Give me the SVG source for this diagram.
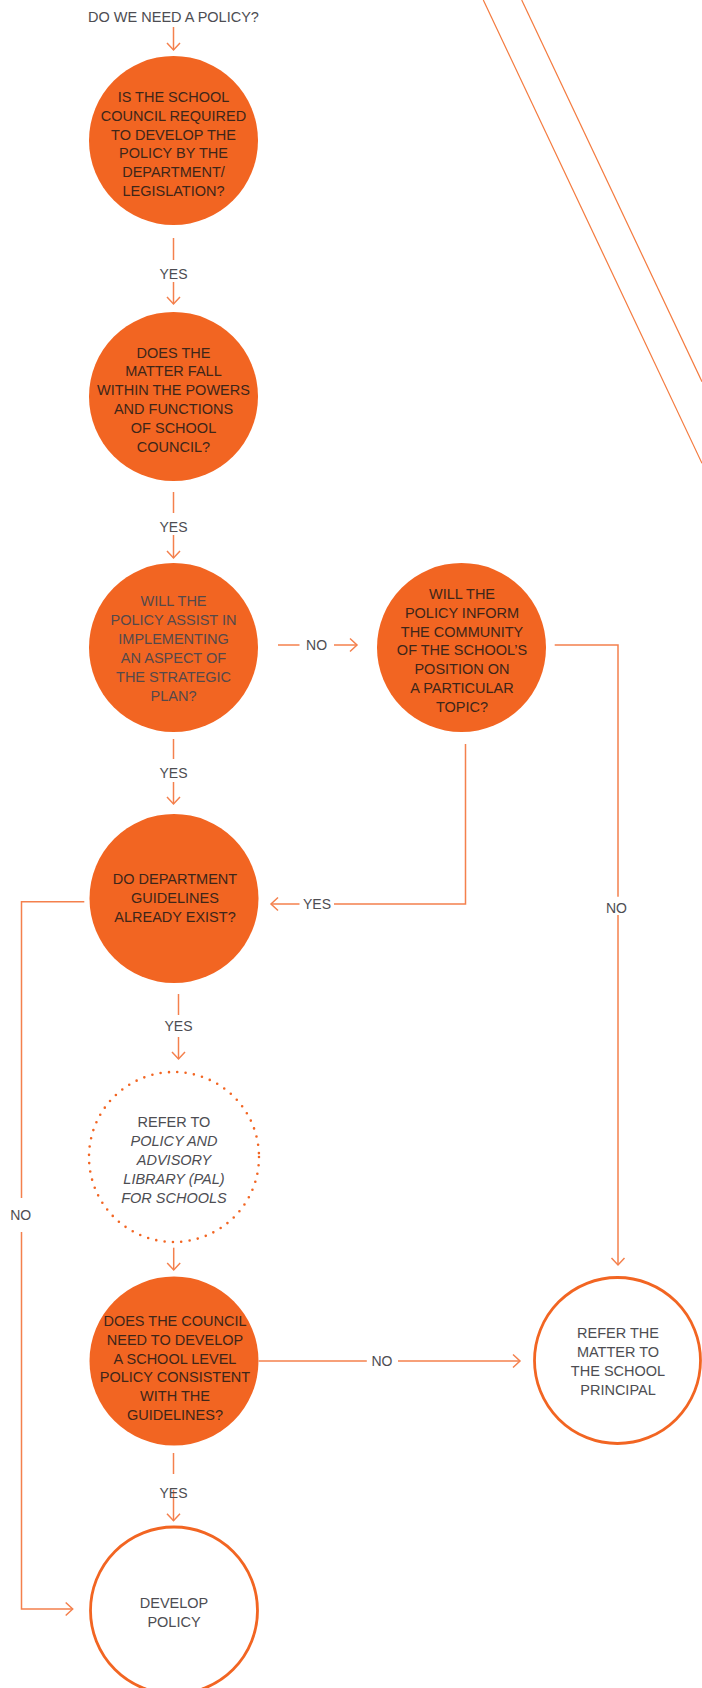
<svg xmlns="http://www.w3.org/2000/svg" width="702" height="1688" viewBox="0 0 702 1688">
<defs>
<marker id="arr" markerUnits="userSpaceOnUse" markerWidth="16" markerHeight="16" viewBox="-9 -8 10 16" refX="0" refY="0" orient="auto">
<path d="M-7,-6.5 L0,0 L-7,6.5" fill="none" stroke="#f4804d" stroke-width="1.5"/>
</marker>
</defs>
<style>
text{font-family:"Liberation Sans",Arial,sans-serif;text-anchor:middle}
.fill{fill:#f26522}
.ring{fill:#fff;stroke:#f26522;stroke-width:2.8}
.dots{fill:none;stroke:#f26522;stroke-width:2.6;stroke-linecap:round;stroke-dasharray:0 8.4}
.q{font-size:14.5px;fill:#3e2619}
.qg{font-size:14.5px;fill:#55494a}
.g{font-size:14.5px;fill:#4d4d52}
.lbl{font-size:14px;fill:#4d4d52}
.c{fill:none;stroke:#f4804d;stroke-width:1.5}
.a{marker-end:url(#arr)}
.diag{stroke:#f47a3e;stroke-width:1.2}
</style>
<rect width="702" height="1688" fill="#fff"/>
<g id="decor">
<line class="diag" x1="483.3" y1="0" x2="702" y2="463.3"/>
<line class="diag" x1="521.7" y1="0" x2="702" y2="381.7"/>
</g>
<g id="connectors">
<path class="c a" d="M173.5,27 V50"/>
<path class="c" d="M173.5,238 V260"/>
<path class="c a" d="M173.5,282 V304"/>
<path class="c" d="M173.5,492 V513"/>
<path class="c a" d="M173.5,535 V558"/>
<path class="c" d="M278,645 H299.5"/>
<path class="c a" d="M334,645 H357"/>
<path class="c" d="M554.7,645 H618 V896.7"/>
<path class="c a" d="M618,915 V1265"/>
<path class="c" d="M465.5,744 V904 H334"/>
<path class="c a" d="M299.5,904 H271"/>
<path class="c" d="M173.5,739 V759"/>
<path class="c a" d="M173.5,782 V804"/>
<path class="c" d="M84.3,901.7 H21.5 V1198"/>
<path class="c a" d="M21.5,1232 V1609 H72.7"/>
<path class="c" d="M178.5,994 V1015"/>
<path class="c a" d="M178.5,1037 V1059"/>
<path class="c a" d="M173.7,1247.7 V1270"/>
<path class="c" d="M258.7,1361 H366.8"/>
<path class="c a" d="M398,1361 H520"/>
<path class="c" d="M173.5,1453 V1474"/>
<path class="c a" d="M173.5,1490 V1520.7"/>
<text class="lbl" x="173.5" y="279">YES</text>
<text class="lbl" x="173.5" y="532">YES</text>
<text class="lbl" x="316.6" y="650">NO</text>
<text class="lbl" x="616.5" y="913">NO</text>
<text class="lbl" x="317" y="909">YES</text>
<text class="lbl" x="173.5" y="778">YES</text>
<text class="lbl" x="20.7" y="1220">NO</text>
<text class="lbl" x="178.5" y="1031">YES</text>
<text class="lbl" x="382" y="1366">NO</text>
<text class="lbl" x="173.5" y="1498">YES</text>
</g>
<g id="start">
<text class="g" x="173.5" y="21.5">DO WE NEED A POLICY?</text>
</g>
<g id="q1">
<circle class="fill" cx="173.5" cy="140.5" r="84.5"/>
<text class="q" x="173.5" y="102">IS THE SCHOOL</text>
<text class="q" x="173.5" y="120.8">COUNCIL REQUIRED</text>
<text class="q" x="173.5" y="139.6">TO DEVELOP THE</text>
<text class="q" x="173.5" y="158.4">POLICY BY THE</text>
<text class="q" x="173.5" y="177.2">DEPARTMENT/</text>
<text class="q" x="173.5" y="196">LEGISLATION?</text>
</g>
<g id="q2">
<circle class="fill" cx="173.5" cy="396.5" r="84.5"/>
<text class="q" x="173.5" y="357.5">DOES THE</text>
<text class="q" x="173.5" y="376.3">MATTER FALL</text>
<text class="q" x="173.5" y="395.1">WITHIN THE POWERS</text>
<text class="q" x="173.5" y="413.9">AND FUNCTIONS</text>
<text class="q" x="173.5" y="432.7">OF SCHOOL</text>
<text class="q" x="173.5" y="451.5">COUNCIL?</text>
</g>
<g id="q3">
<circle class="fill" cx="173.5" cy="647.5" r="84.5"/>
<text class="qg" x="173.5" y="606">WILL THE</text>
<text class="qg" x="173.5" y="625">POLICY ASSIST IN</text>
<text class="qg" x="173.5" y="644">IMPLEMENTING</text>
<text class="qg" x="173.5" y="663">AN ASPECT OF</text>
<text class="qg" x="173.5" y="682">THE STRATEGIC</text>
<text class="qg" x="173.5" y="701">PLAN?</text>
</g>
<g id="q4">
<circle class="fill" cx="461.5" cy="647.5" r="84.5"/>
<text class="q" x="462" y="599">WILL THE</text>
<text class="q" x="462" y="617.8">POLICY INFORM</text>
<text class="q" x="462" y="636.6">THE COMMUNITY</text>
<text class="q" x="462" y="655.4">OF THE SCHOOL’S</text>
<text class="q" x="462" y="674.2">POSITION ON</text>
<text class="q" x="462" y="693">A PARTICULAR</text>
<text class="q" x="462" y="711.8">TOPIC?</text>
</g>
<g id="q5">
<circle class="fill" cx="174" cy="898.5" r="84.5"/>
<text class="q" x="175" y="884">DO DEPARTMENT</text>
<text class="q" x="175" y="903">GUIDELINES</text>
<text class="q" x="175" y="922">ALREADY EXIST?</text>
</g>
<g id="pal">
<circle class="dots" cx="174" cy="1157" r="85"/>
<text class="g" x="174" y="1126.7">REFER TO</text>
<text class="g" x="174" y="1145.7" font-style="italic">POLICY AND</text>
<text class="g" x="174" y="1164.7" font-style="italic">ADVISORY</text>
<text class="g" x="174" y="1183.7" font-style="italic">LIBRARY (PAL)</text>
<text class="g" x="174" y="1202.7" font-style="italic">FOR SCHOOLS</text>
</g>
<g id="q6">
<circle class="fill" cx="174" cy="1361" r="84.5"/>
<text class="q" x="175" y="1326">DOES THE COUNCIL</text>
<text class="q" x="175" y="1344.8">NEED TO DEVELOP</text>
<text class="q" x="175" y="1363.6">A SCHOOL LEVEL</text>
<text class="q" x="175" y="1382.4">POLICY CONSISTENT</text>
<text class="q" x="175" y="1401.2">WITH THE</text>
<text class="q" x="175" y="1420">GUIDELINES?</text>
</g>
<g id="principal">
<circle class="ring" cx="617.5" cy="1360.5" r="83"/>
<text class="g" x="618" y="1338">REFER THE</text>
<text class="g" x="618" y="1357">MATTER TO</text>
<text class="g" x="618" y="1376">THE SCHOOL</text>
<text class="g" x="618" y="1395">PRINCIPAL</text>
</g>
<g id="develop">
<circle class="ring" cx="174" cy="1610.5" r="83.5"/>
<text class="g" x="174" y="1608">DEVELOP</text>
<text class="g" x="174" y="1627">POLICY</text>
</g>
</svg>
